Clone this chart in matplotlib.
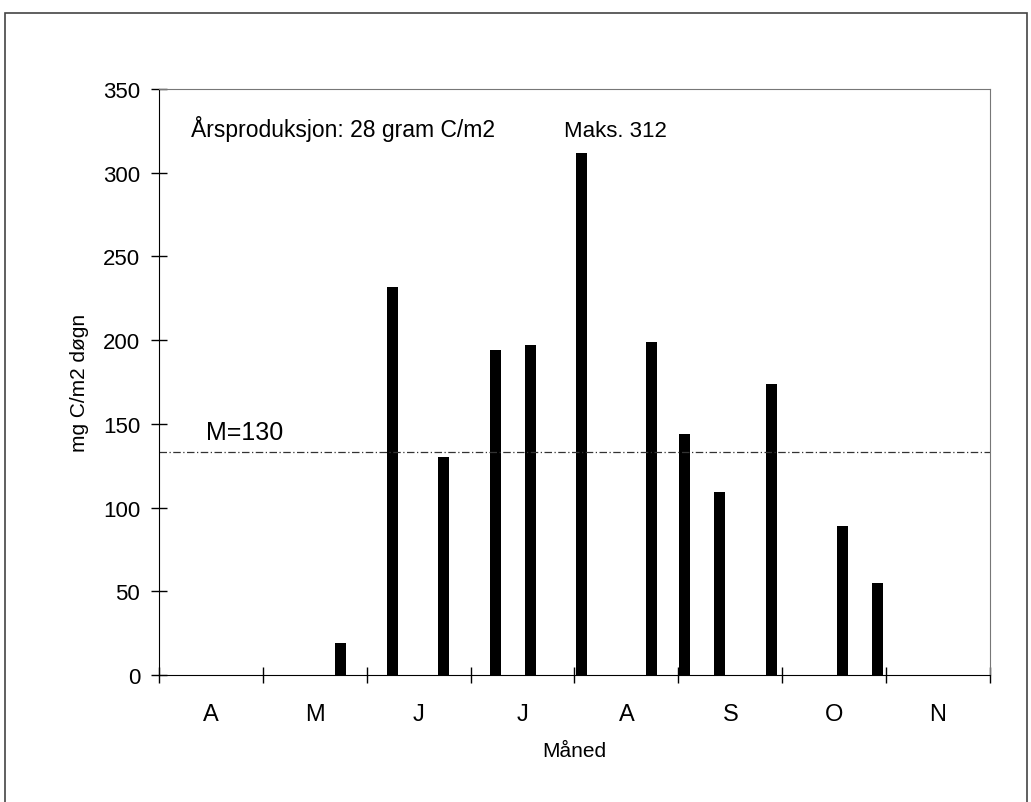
import matplotlib
matplotlib.use("Agg")

import matplotlib.pyplot as plt
from matplotlib.patches import Rectangle

plt.rcParams["font.family"] = ["Liberation Sans", "DejaVu Sans"]

# -----------------------------
# Data (x in months from 1 April)
# -----------------------------
months = ["A", "M", "J", "J", "A", "S", "O", "N"]
sample_pos = [1.75, 2.25, 2.74, 3.24, 3.58, 4.07, 4.74, 5.06, 5.40, 5.90, 6.58, 6.92]
production = [19, 232, 130, 194, 197, 312, 199, 144, 109, 174, 89, 55]
mean_value = 133
mean_label = "M=130"
annual_text = "Årsproduksjon: 28 gram C/m2"
max_text = "Maks. 312"

# -----------------------------
# Plot
# -----------------------------
fig = plt.figure(figsize=(10.31, 8.03), dpi=100)
ax = fig.add_axes([0.1542, 0.1582, 0.806, 0.7297])

ax.bar(sample_pos, production, width=0.106, color="black", align="center")
ax.axhline(mean_value, color="#333333", linestyle=(0, (6, 2, 1, 2)), linewidth=0.9)

ax.set_xlim(0, len(months))
ax.set_ylim(0, 350)

ax.set_xticks(range(len(months) + 1))
ax.set_xticklabels([])
ax.set_xticks([i + 0.5 for i in range(len(months))], minor=True)
ax.set_xticklabels(months, minor=True, fontsize=17)
ax.tick_params(axis="x", which="minor", length=0, pad=20)
ax.tick_params(axis="x", which="major", direction="inout", length=11, width=1)

ax.set_yticks(range(0, 351, 50))
ax.tick_params(axis="y", direction="inout", length=11, width=1, labelsize=16, pad=8)

for side in ["top", "right"]:
    ax.spines[side].set_color("#777777")
    ax.spines[side].set_linewidth(0.8)

ax.set_ylabel("mg C/m2 døgn", fontsize=15, labelpad=10)
ax.set_xlabel("Måned", fontsize=15, labelpad=12)

ax.text(0.31, 327, annual_text, fontsize=16.5, va="center")
ax.text(3.9, 325, max_text, fontsize=16, va="center")
ax.text(0.45, 145, mean_label, fontsize=18, va="center")

# Outer frame (bottom edge falls below the picture)
fig.patches.append(Rectangle((0.005, -0.05), 0.991, 1.033, transform=fig.transFigure,
                             fill=False, edgecolor="#444444", linewidth=1.2))

fig.savefig("out.png", dpi=100)
plt.close(fig)
